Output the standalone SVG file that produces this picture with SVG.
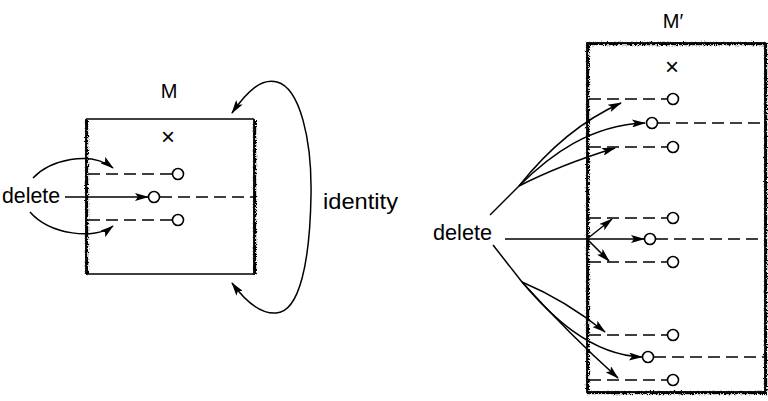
<svg xmlns="http://www.w3.org/2000/svg" width="768" height="401" viewBox="0 0 768 401">
<style>
.t{font-family:"Liberation Sans",Arial,sans-serif;fill:#000}
.ln{fill:none;stroke:#000;stroke-width:1.5}
.ds{fill:none;stroke:#000;stroke-width:1.6;stroke-dasharray:12 6}
.c{fill:#fff;stroke:#000;stroke-width:1.6}
.base{fill:none;stroke:#000;stroke-width:1.8}
.rough{fill:none;stroke:#000;stroke-width:2.4;filter:url(#jag)}
.arr{marker-end:url(#ah)}
</style>
<defs>
<filter id="jag" filterUnits="userSpaceOnUse" x="0" y="0" width="768" height="401">
<feTurbulence type="turbulence" baseFrequency="1.3" numOctaves="2" seed="5" result="n"/>
<feDisplacementMap in="SourceGraphic" in2="n" scale="4" xChannelSelector="R" yChannelSelector="G"/>
</filter>
<marker id="ah" viewBox="0 0 14 8" refX="13" refY="4" markerWidth="15" markerHeight="8" markerUnits="userSpaceOnUse" orient="auto-start-reverse">
<path d="M0,0 L14,4 L0,8 L3,4 z" fill="#000"/>
</marker>
</defs>

<g id="nodeM">
<line class="ln" x1="86" y1="119" x2="254" y2="119"/>
<line class="ln" x1="86" y1="274" x2="254" y2="274"/>
<line class="base" x1="86" y1="119" x2="86" y2="274"/>
<line class="base" x1="254" y1="119" x2="254" y2="274"/>
<line class="rough" x1="86" y1="119" x2="86" y2="274"/>
<line class="rough" x1="254" y1="119" x2="254" y2="274"/>
<text class="t" x="169" y="98" font-size="20" text-anchor="middle">M</text>
<text class="t" x="168" y="145" font-size="24" text-anchor="middle">×</text>
<line class="ds" x1="88" y1="174" x2="172" y2="174"/>
<circle class="c" cx="178" cy="174" r="5.5"/>
<line class="ds" x1="160" y1="197" x2="254" y2="197"/>
<circle class="c" cx="154" cy="197" r="5.5"/>
<line class="ds" x1="88" y1="220" x2="172" y2="220"/>
<circle class="c" cx="178" cy="220" r="5.5"/>
</g>

<g id="nodeMprime">
<rect class="base" x="587" y="43" width="178" height="349" stroke-width="2"/>
<rect class="rough" x="587" y="43" width="178" height="349" stroke-width="2.8"/>
<text class="t" x="673" y="28" font-size="20" text-anchor="middle">M′</text>
<text class="t" x="672" y="75" font-size="24" text-anchor="middle">×</text>
<line class="ds" x1="589" y1="99" x2="667" y2="99"/>
<circle class="c" cx="673" cy="99" r="5.5"/>
<line class="ds" x1="658" y1="123" x2="765" y2="123"/>
<circle class="c" cx="652" cy="123" r="5.5"/>
<line class="ds" x1="589" y1="147" x2="667" y2="147"/>
<circle class="c" cx="673" cy="147" r="5.5"/>
<line class="ds" x1="589" y1="218" x2="667" y2="218"/>
<circle class="c" cx="673" cy="218" r="5.5"/>
<line class="ds" x1="656" y1="239" x2="765" y2="239"/>
<circle class="c" cx="650" cy="239" r="5.5"/>
<line class="ds" x1="589" y1="262" x2="667" y2="262"/>
<circle class="c" cx="673" cy="262" r="5.5"/>
<line class="ds" x1="589" y1="335" x2="667" y2="335"/>
<circle class="c" cx="673" cy="335" r="5.5"/>
<line class="ds" x1="654" y1="357" x2="765" y2="357"/>
<circle class="c" cx="648" cy="357" r="5.5"/>
<line class="ds" x1="589" y1="380" x2="667" y2="380"/>
<circle class="c" cx="673" cy="380" r="5.5"/>
</g>

<g id="labelDeleteLeft"><text class="t" x="2" y="203" font-size="22" textLength="58" lengthAdjust="spacingAndGlyphs">delete</text></g>
<g id="labelIdentity"><text class="t" x="323" y="209" font-size="22" textLength="75" lengthAdjust="spacingAndGlyphs">identity</text></g>
<g id="labelDeleteRight"><text class="t" x="433" y="240" font-size="22" textLength="59" lengthAdjust="spacingAndGlyphs">delete</text></g>

<g id="connectors">
<line class="ln arr" x1="65" y1="197" x2="148" y2="197"/>
<path class="ln arr" d="M33,178 C50,160 90,150 113,168"/>
<path class="ln arr" d="M30,212 C50,235 95,240 113,226"/>
<path class="ln" d="M232,113 C248,90 262,78 277,82 C300,88 312,140 311,195 C310,260 300,312 276,313 C258,314 243,298 232,283" marker-start="url(#ah)" marker-end="url(#ah)"/>

<line class="ln" x1="490" y1="215" x2="519" y2="186"/>
<path class="ln arr" d="M519,186 Q565,128 621,103"/>
<path class="ln arr" d="M519,186 C550,155 590,125 645,123"/>
<path class="ln arr" d="M519,186 Q560,165 615,148"/>

<line class="ln arr" x1="505" y1="239" x2="644" y2="239"/>
<line class="ln arr" x1="587" y1="239" x2="612" y2="219"/>
<line class="ln arr" x1="587" y1="239" x2="609" y2="261"/>

<line class="ln" x1="493" y1="245" x2="522" y2="282"/>
<path class="ln arr" d="M522,282 Q565,300 605,332"/>
<path class="ln arr" d="M522,282 C550,315 590,355 642,357"/>
<path class="ln arr" d="M522,282 Q570,335 618,378"/>
</g>
</svg>
